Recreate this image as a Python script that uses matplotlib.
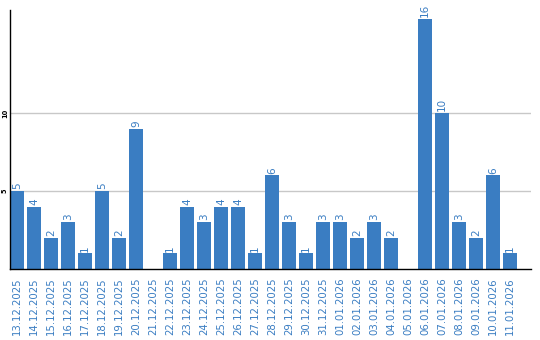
import matplotlib.pyplot as plt

dates = ["13.12.2025", "14.12.2025", "15.12.2025", "16.12.2025", "17.12.2025",
         "18.12.2025", "19.12.2025", "20.12.2025", "21.12.2025", "22.12.2025",
         "23.12.2025", "24.12.2025", "25.12.2025", "26.12.2025", "27.12.2025",
         "28.12.2025", "29.12.2025", "30.12.2025", "31.12.2025", "01.01.2026",
         "02.01.2026", "03.01.2026", "04.01.2026", "05.01.2026", "06.01.2026",
         "07.01.2026", "08.01.2026", "09.01.2026", "10.01.2026", "11.01.2026"]
counts = [5, 4, 2, 3, 1, 5, 2, 9, 0, 1, 4, 3, 4, 4, 1, 6, 3, 1, 3, 3,
          2, 3, 2, 0, 16, 10, 3, 2, 6, 1]

blue = "#3a7dc2"

fig = plt.figure(figsize=(5.4, 3.4), dpi=100)
ax = fig.add_axes([10 / 540, 71 / 340, 521 / 540, 259 / 340])

x = list(range(len(dates)))
ax.bar(x, counts, width=0.82, color=blue, zorder=2)

for xi, v in zip(x, counts):
    if v > 0:
        ax.text(xi, v + 0.12, str(v), rotation=90, ha="center", va="bottom",
                fontsize=7.5, color=blue)

ax.set_xlim(-0.41, 30.24)
ax.set_ylim(0, 16.6)
ax.set_yticks([5, 10])
ax.set_yticklabels(["5", "10"], rotation=90, va="center", fontsize=4.8,
                   fontweight="bold")
ax.tick_params(axis="y", length=0, pad=1.5)
ax.yaxis.grid(True, color="#c8c8c8", linewidth=1, zorder=0)
ax.set_axisbelow(True)

ax.set_xticks(x)
ax.set_xticklabels(dates, rotation=90, fontsize=7.3, color=blue)
ax.tick_params(axis="x", length=0, pad=6)

for s in ["top", "right"]:
    ax.spines[s].set_visible(False)
ax.spines["left"].set_linewidth(1)
ax.spines["bottom"].set_linewidth(1)

fig.savefig("out.png", dpi=100)
